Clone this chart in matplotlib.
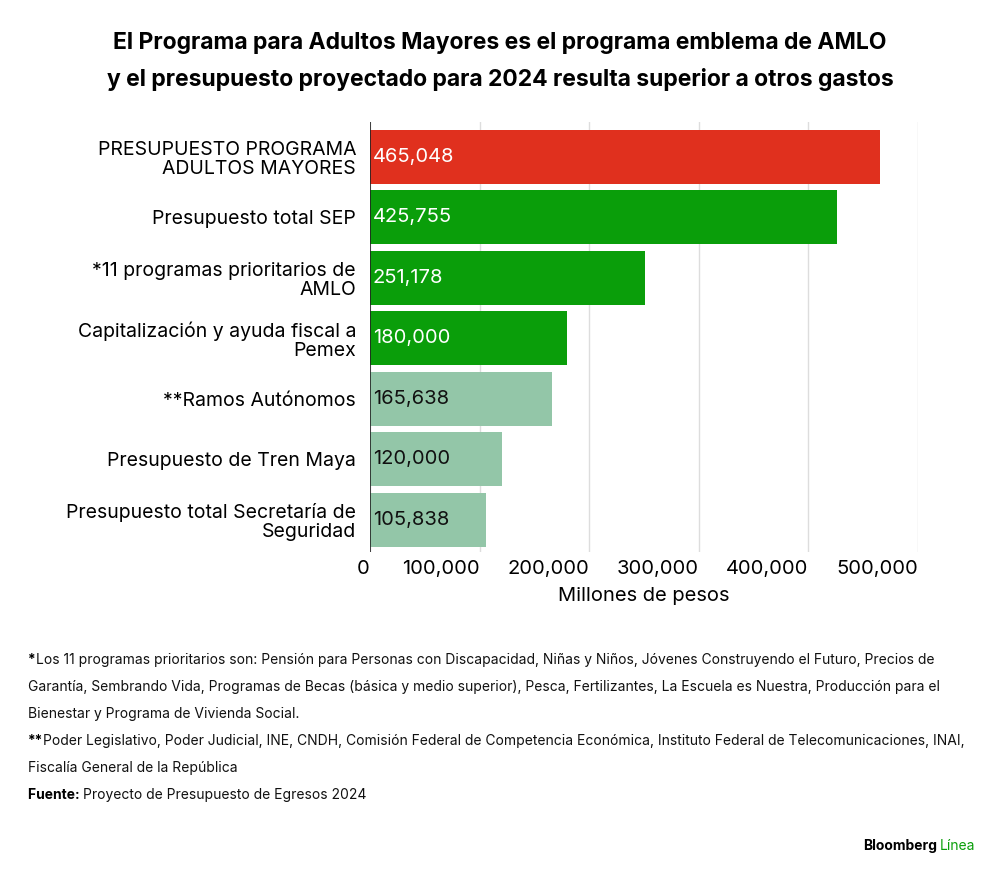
import matplotlib.pyplot as plt

plt.rcParams['font.family'] = ['Inter', 'DejaVu Sans']

labels = ['PRESUPUESTO PROGRAMA\nADULTOS MAYORES', 'Presupuesto total SEP',
          '*11 programas prioritarios de\nAMLO', 'Capitalización y ayuda fiscal a\nPemex',
          '**Ramos Autónomos', 'Presupuesto de Tren Maya',
          'Presupuesto total Secretaría de\nSeguridad']
values = [465048, 425755, 251178, 180000, 165638, 120000, 105838]
colors = ['#e0301e', '#0a9e0a', '#0a9e0a', '#0a9e0a', '#93c6a8', '#93c6a8', '#93c6a8']
text_colors = ['white', 'white', 'white', 'white', '#111111', '#111111', '#111111']
ticks = [0, 100000, 200000, 300000, 400000, 500000]

fig = plt.figure(figsize=(10, 8.76), dpi=100)
ax = fig.add_axes([0.370, 0.370, 0.548, 0.491])

ypos = list(range(len(values)))
ax.barh(ypos, values, height=0.89, color=colors, zorder=2)
for y, v, tc in zip(ypos, values, text_colors):
    ax.text(2500, y, f'{v:,}', va='center', ha='left', color=tc, fontsize=14.5, zorder=3)
ax.set_ylim(len(values) - 0.47, -0.58)
ax.set_xlim(0, 500000)
ax.set_yticks(ypos)
ax.set_yticklabels(labels, fontsize=14, linespacing=1.05)
ax.set_xticks(ticks)
ax.set_xticklabels([f'{t:,}' for t in ticks], fontsize=14.5, ha='right')
ax.tick_params(length=0, pad=10)
ax.tick_params(axis='x', pad=6)
ax.grid(axis='x', color='#dddddd', lw=1, zorder=0)
for s in ax.spines.values():
    s.set_visible(False)
ax.axvline(0, color='#222222', lw=1.2, zorder=4)
ax.set_xlabel('Millones de pesos', fontsize=14.5, labelpad=6)

fig.text(0.5, 0.951, 'El Programa para Adultos Mayores es el programa emblema de AMLO',
         ha='center', va='center', fontsize=16.5, fontweight='bold')
fig.text(0.5, 0.909, 'y el presupuesto proyectado para 2024 resulta superior a otros gastos',
         ha='center', va='center', fontsize=16.5, fontweight='bold')

notes = [
    ('*', 'Los 11 programas prioritarios son: Pensión para Personas con Discapacidad, Niñas y Niños, Jóvenes Construyendo el Futuro, Precios de'),
    ('', 'Garantía, Sembrando Vida, Programas de Becas (básica y medio superior), Pesca, Fertilizantes, La Escuela es Nuestra, Producción para el'),
    ('', 'Bienestar y Programa de Vivienda Social.'),
    ('**', 'Poder Legislativo, Poder Judicial, INE, CNDH, Comisión Federal de Competencia Económica, Instituto Federal de Telecomunicaciones, INAI,'),
    ('', 'Fiscalía General de la República'),
    ('Fuente: ', 'Proyecto de Presupuesto de Egresos 2024'),
]
y0 = 1 - 660 / 876
for i, (b, t) in enumerate(notes):
    y = y0 - i * 27 / 876
    x = 0.028
    if b:
        tb = fig.text(x, y, b, fontsize=10, fontweight='bold', va='center')
        fig.canvas.draw()
        bb = tb.get_window_extent()
        x = bb.x1 / fig.bbox.width
    fig.text(x, y, t, fontsize=10, va='center', color='#111111')

fig.text(0.937, 1 - 846 / 876, 'Bloomberg', ha='right', va='center', fontsize=10, fontweight='bold')
fig.text(0.940, 1 - 846 / 876, 'Línea', ha='left', va='center', fontsize=10, color='#0a9e0a')

fig.savefig('out.png', dpi=100, facecolor='white')
